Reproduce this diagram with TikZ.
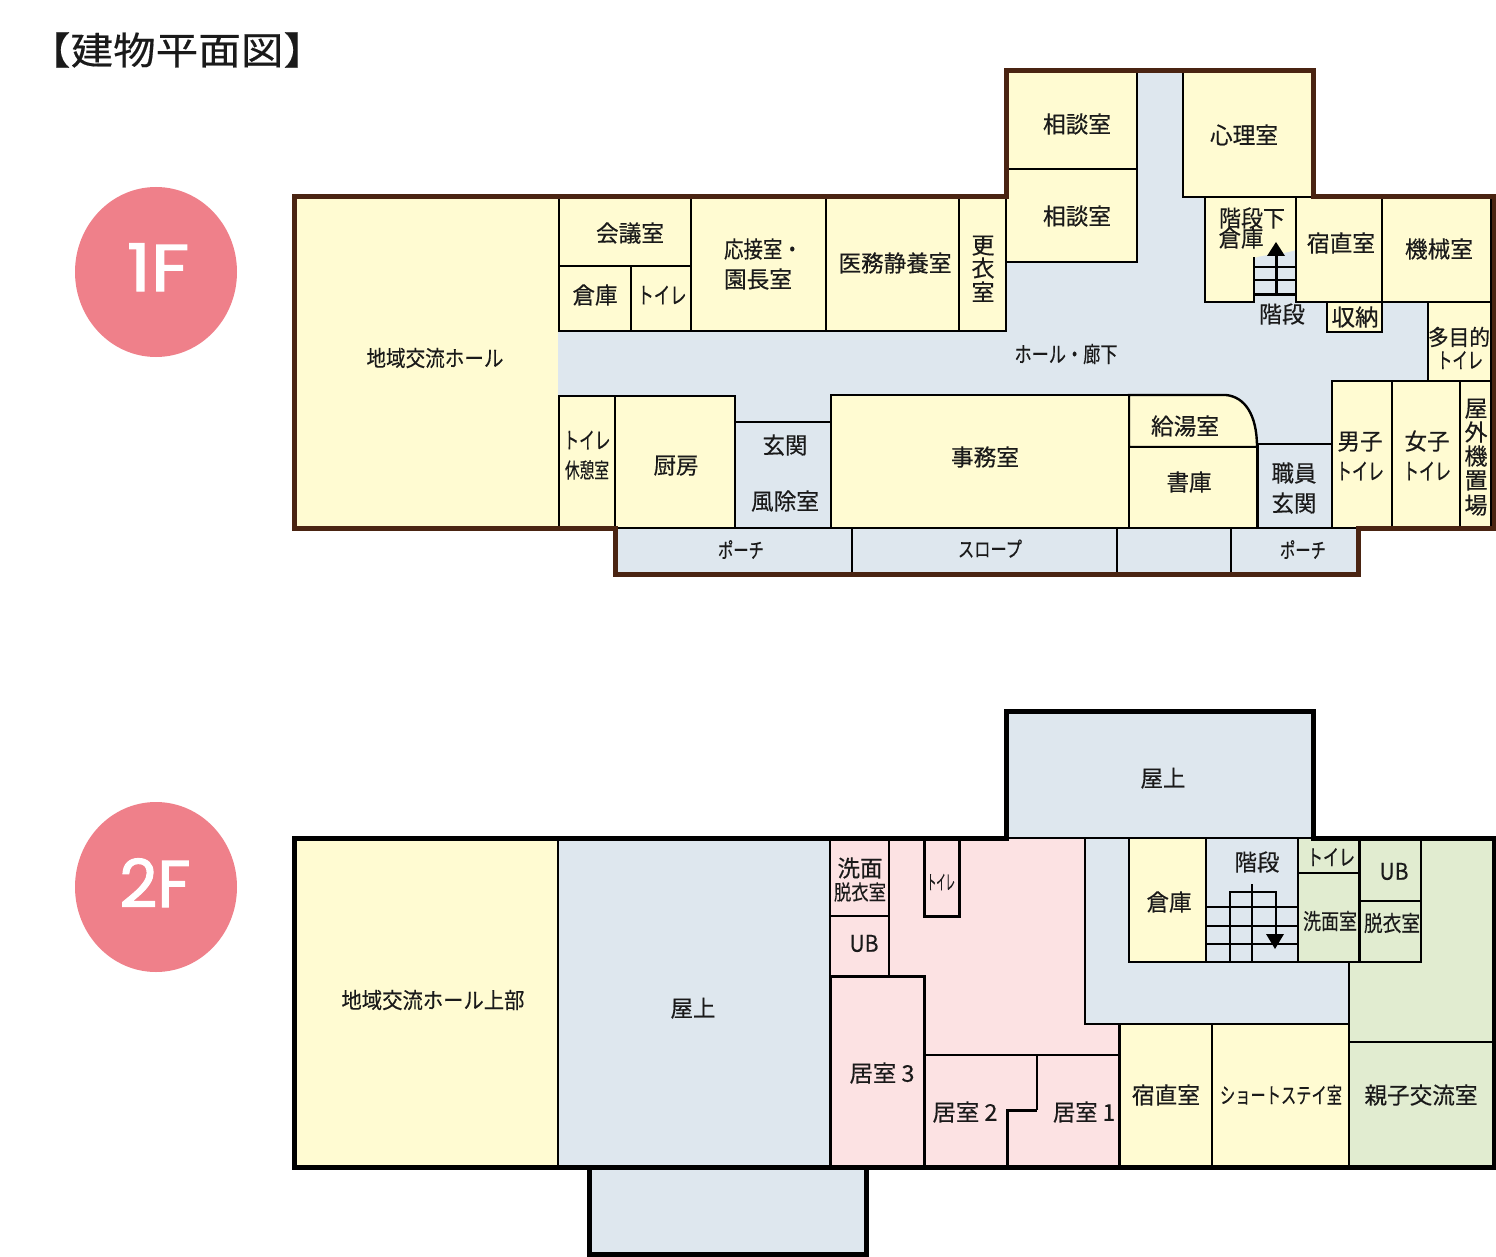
\documentclass[tikz,border=0pt]{standalone}
\usepackage{fontspec}
\usetikzlibrary{shapes.geometric}
\setmainfont[FakeBold=0.35]{Noto Sans CJK JP}
\newfontfamily\circfont[FakeBold=1.6]{Poppins}
\definecolor{ylw}{HTML}{FFFBD2}
\definecolor{blu}{HTML}{DEE7EE}
\definecolor{pnk}{HTML}{FCE2E3}
\definecolor{grn}{HTML}{E1ECD0}
\definecolor{brn}{HTML}{4A2412}
\definecolor{bdg}{HTML}{EF808A}
\definecolor{ink}{HTML}{1A1A1A}
\tikzset{
  wall/.style={line width=2.4pt,draw=black,line join=miter},
  thick wall/.style={line width=3pt,draw=black,line join=miter},
  outer/.style={line width=5pt,line join=miter},
  badge/.style={ellipse,fill=bdg,minimum width=162pt,minimum height=170pt,inner sep=0pt},
  badgetext/.style={anchor=base,text=white,inner sep=0pt,font=\circfont\fontsize{66}{66}\selectfont},
  lab/.style={anchor=base,inner sep=0pt,text=ink}
}
\newsavebox\lbbox
% name, cx, cy, font size, target width, text
\newcommand\lb[6]{%
  \node[lab] (#1) at ({#2},{#3+0.38*#4}) {%
    \sbox\lbbox{\fontsize{#4}{#4}\selectfont #6}%
    \pgfmathsetmacro\lbs{#5/\wd\lbbox}%
    \scalebox{\lbs}[1]{\usebox\lbbox}};}
\newcommand\rmbox[5]{\draw[wall,fill=#1] (#2,#3) rectangle (#4,#5);}
\begin{document}
\begin{tikzpicture}[x=1pt,y=-1pt]
\useasboundingbox (0,0) rectangle (1496,1257);
\fill[white] (0,0) rectangle (1496,1257);
% title and badges
\lb{title}{177}{50}{38}{298}{【建物平面図】}
\node[badge] (b1) at (156,272) {};
\node[badge] (b2) at (156,887) {};
\node[badgetext] (t1) at (158,291) {\scalebox{1.15}[1]{1F}};
\node[badgetext] (t2) at (155,907) {2F};
%%%%%%%%%%%%%%%% 1F
\fill[blu] (294,197) -- (1006,197) -- (1006,71) -- (1313,71) -- (1313,197) -- (1494,197) -- (1494,528) -- (1358,528) -- (1358,574) -- (615,574) -- (615,528) -- (294,528) -- cycle;
\fill[ylw] (294,197) rectangle (558,528);
\rmbox{ylw}{559}{197}{691}{266}
\rmbox{ylw}{559}{266}{631}{331}
\rmbox{ylw}{631}{266}{691}{331}
\rmbox{ylw}{691}{197}{826}{331}
\rmbox{ylw}{826}{197}{959}{331}
\rmbox{ylw}{959}{197}{1006}{331}
\rmbox{ylw}{1006}{71}{1137}{169}
\rmbox{ylw}{1006}{169}{1137}{262}
\rmbox{ylw}{1183}{71}{1313}{197}
\fill[ylw] (1205,197) -- (1296,197) -- (1296,250) .. controls (1280,255) and (1265,254) .. (1254,258) -- (1254,302) -- (1205,302) -- cycle;
\draw[wall] (1296,197) -- (1205,197) -- (1205,302) -- (1254,302) -- (1254,257);
\draw[wall] (1254,267) -- (1296,267) (1254,280) -- (1296,280);
\draw[thick wall] (1254,295) -- (1296,295);
\draw[wall,line width=3pt] (1276,295) -- (1276,254);
\fill[black] (1276,242) -- (1285,256) -- (1267,256) -- cycle;
\rmbox{ylw}{1296}{197}{1382}{302}
\rmbox{ylw}{1382}{197}{1491}{302}
\rmbox{ylw}{1327}{302}{1382}{332}
\rmbox{ylw}{1428}{302}{1491}{381}
\rmbox{ylw}{1332}{381}{1392}{528}
\rmbox{ylw}{1392}{381}{1460}{528}
\rmbox{ylw}{1460}{381}{1491}{528}
\draw[wall,fill=blu] (1258,444) -- (1332,444) -- (1332,528) -- (1258,528) -- cycle;
\draw[wall,fill=ylw] (1129,447) -- (1129,395) -- (1226,395) .. controls (1245,397) and (1257,415) .. (1257,447) -- cycle;
\rmbox{ylw}{1129}{447}{1257}{528}
\rmbox{ylw}{831}{395}{1129}{528}
\rmbox{blu}{735}{422}{831}{528}
\rmbox{ylw}{615}{396}{735}{528}
\rmbox{ylw}{559}{396}{615}{528}
\draw[wall] (615,528) -- (1358,528) (852,528) -- (852,574) (1117,528) -- (1117,574) (1231,528) -- (1231,574);
\draw[wall] (559,331) -- (1006,331);
\draw[outer,draw=brn] (294,197) -- (1006,197) -- (1006,71) -- (1313,71) -- (1313,197) -- (1494,197) -- (1494,528) -- (1358,528) -- (1358,574) -- (615,574) -- (615,528) -- (294,528) -- cycle;
% labels 1F
\lb{a1}{435}{358}{22}{137}{地域交流ホール}
\lb{a2}{630}{233}{23}{68}{会議室}
\lb{a3}{595}{295}{23}{45}{倉庫}
\lb{a4}{662}{295}{23}{49}{トイレ}
\lb{a5}{763}{249}{23}{78}{応接室・}
\lb{a6}{758}{279}{23}{68}{園長室}
\lb{a7}{895}{263}{23}{113}{医務静養室}
\lb{a8a}{983}{245}{23}{23}{更}
\lb{a8b}{983}{268}{23}{23}{衣}
\lb{a8c}{983}{292}{23}{23}{室}
\lb{a9}{1077}{124}{23}{68}{相談室}
\lb{a10}{1077}{216}{23}{68}{相談室}
\lb{a11}{1244}{135}{23}{68}{心理室}
\lb{a12}{1252}{218}{23}{66}{階段下}
\lb{a13}{1241}{238}{23}{45}{倉庫}
\lb{a14}{1341}{243}{23}{68}{宿直室}
\lb{a15}{1439}{249}{23}{68}{機械室}
\lb{a16}{1282}{314}{23}{46}{階段}
\lb{a17}{1355}{317}{23}{47}{収納}
\lb{a18}{1459}{337}{22}{62}{多目的}
\lb{a19}{1460}{360}{22}{46}{トイレ}
\lb{a20}{1066}{354}{22}{103}{ホール・廊下}
\lb{a21}{1185}{426}{23}{68}{給湯室}
\lb{a22}{1189}{482}{23}{45}{書庫}
\lb{a23}{985}{457}{23}{68}{事務室}
\lb{a24}{1294}{473}{23}{45}{職員}
\lb{a25}{1294}{503}{23}{45}{玄関}
\lb{a26}{1360}{441}{23}{45}{男子}
\lb{a27}{1360}{471}{23}{48}{トイレ}
\lb{a28}{1427}{441}{23}{45}{女子}
\lb{a29}{1427}{471}{23}{48}{トイレ}
\lb{a30a}{1476}{408}{23}{23}{屋}
\lb{a30b}{1476}{432}{23}{23}{外}
\lb{a30c}{1476}{456}{23}{23}{機}
\lb{a30d}{1476}{480}{23}{23}{置}
\lb{a30e}{1476}{505}{23}{23}{場}
\lb{a31}{587}{440}{23}{47}{トイレ}
\lb{a32}{587}{470}{21}{44}{休憩室}
\lb{a33}{676}{465}{23}{45}{厨房}
\lb{a34}{785}{445}{23}{45}{玄関}
\lb{a35}{785}{501}{23}{68}{風除室}
\lb{a36}{741}{550}{21}{46}{ポーチ}
\lb{a37}{990}{549}{21}{64}{スロープ}
\lb{a38}{1303}{550}{21}{46}{ポーチ}
%%%%%%%%%%%%%%%% 2F
\fill[ylw] (294,838) rectangle (558,1167);
\fill[blu] (558,838) rectangle (830,1167);
\fill[blu] (589,1167) rectangle (866,1254);
\fill[blu] (1006,711) rectangle (1313,838);
\fill[pnk] (830,838) -- (1085,838) -- (1085,1024) -- (1119,1024) -- (1119,1167) -- (830,1167) -- cycle;
\draw[wall] (558,838) -- (558,1167);
\draw[thick wall] (830,838) -- (830,1167);
\draw[wall,fill=blu] (1085,838) -- (1349,838) -- (1349,1024) -- (1085,1024) -- cycle;
\draw[wall] (1006,838) -- (1313,838);
\rmbox{pnk}{830}{838}{889}{916}
\rmbox{pnk}{830}{916}{889}{976}
\draw[thick wall] (830,976) -- (924,976) -- (924,1167);
\draw[thick wall] (924,838) -- (924,916) -- (959,916) -- (959,838);
\draw[wall] (924,1055) -- (1119,1055);
\draw[wall] (1037,1055) -- (1037,1110);
\draw[thick wall] (1037,1110) -- (1007,1110) -- (1007,1167);
\fill[grn] (1421,838) -- (1494,838) -- (1494,1042) -- (1349,1042) -- (1349,962) -- (1421,962) -- cycle;
\draw[wall] (1349,962) -- (1349,1167);
\rmbox{ylw}{1129}{838}{1206}{962}
\rmbox{blu}{1206}{838}{1298}{962}
\draw[wall] (1206,907) -- (1298,907) (1206,926) -- (1298,926) (1206,944) -- (1298,944);
\draw[wall] (1252,884) -- (1252,962);
\draw[wall] (1230,962) -- (1230,892) -- (1276,892) -- (1276,936);
\fill[black] (1275,949) -- (1266,934) -- (1284,934) -- cycle;
\rmbox{grn}{1298}{838}{1359}{873}
\rmbox{grn}{1298}{873}{1359}{962}
\rmbox{grn}{1360}{838}{1421}{901}
\rmbox{grn}{1360}{901}{1421}{962}
\rmbox{ylw}{1119}{1024}{1212}{1167}
\rmbox{ylw}{1212}{1024}{1349}{1167}
\rmbox{grn}{1349}{1042}{1494}{1167}
\draw[thick wall] (1119,1024) -- (1119,1167);
\draw[outer,draw=black] (294,838) -- (1006,838) -- (1006,711) -- (1313,711) -- (1313,838) -- (1494,838) -- (1494,1167) -- (866,1167) -- (866,1254) -- (589,1254) -- (589,1167) -- (294,1167) -- cycle;
\draw[outer,draw=black] (589,1167) -- (866,1167);
% labels 2F
\lb{c1}{433}{1000}{22}{183}{地域交流ホール上部}
\lb{c2}{693}{1008}{23}{45}{屋上}
\lb{c3}{1163}{778}{23}{45}{屋上}
\lb{c4}{860}{868}{23}{45}{洗面}
\lb{c5}{860}{892}{21}{52}{脱衣室}
\lb{c6}{864}{943}{23}{29}{UB}
\lb{c7}{941}{882}{20}{28}{トイレ}
\lb{c8}{882}{1073}{23}{65}{居室 3}
\lb{c9}{965}{1112}{23}{65}{居室 2}
\lb{c10}{1084}{1112}{23}{62}{居室 1}
\lb{c11}{1169}{902}{23}{45}{倉庫}
\lb{c12}{1257}{862}{23}{45}{階段}
\lb{c13}{1331}{857}{22}{48}{トイレ}
\lb{c14}{1330}{921}{22}{54}{洗面室}
\lb{c15}{1394}{871}{23}{29}{UB}
\lb{c16}{1392}{923}{22}{56}{脱衣室}
\lb{c17}{1166}{1095}{23}{68}{宿直室}
\lb{c18}{1281}{1095}{22}{122}{ショートステイ室}
\lb{c19}{1421}{1095}{23}{113}{親子交流室}
\end{tikzpicture}
\end{document}
